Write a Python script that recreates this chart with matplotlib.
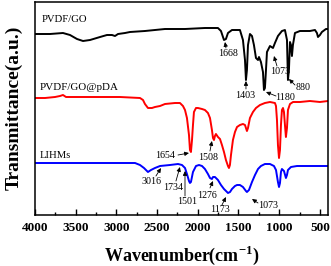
import matplotlib
matplotlib.use('Agg')
import matplotlib.pyplot as plt
from matplotlib.ticker import MultipleLocator

plt.rcParams['font.family'] = 'Liberation Serif'
plt.rcParams['mathtext.fontset'] = 'custom'
plt.rcParams['mathtext.rm'] = 'Liberation Serif:bold'
plt.rcParams['mathtext.bf'] = 'Liberation Serif:bold'

# FTIR spectra as (wavenumber, transmittance a.u.), each sample offset vertically
go_pts = [(4000, 181), (3816, 181), (3656, 182), (3570, 180), (3484, 176), (3410, 174),
          (3324, 175), (3201, 178), (3116, 180), (3054, 180), (3017, 179), (2980, 181),
          (2894, 182), (2833, 183), (2649, 184), (2403, 186), (2157, 186), (1912, 187),
          (1752, 187), (1715, 184), (1678, 175), (1654, 176), (1629, 182), (1580, 185),
          (1482, 185), (1445, 175), (1420, 155), (1408, 135), (1396, 145), (1383, 170),
          (1359, 181), (1334, 179), (1310, 170), (1285, 157), (1260, 155), (1248, 158),
          (1224, 153), (1199, 143), (1187, 125), (1175, 127), (1162, 145), (1150, 163),
          (1113, 169), (1076, 167), (1052, 172), (1015, 179), (966, 184), (929, 185),
          (904, 175), (892, 135), (880, 145), (867, 173), (855, 170), (843, 159),
          (831, 170), (806, 182), (745, 184), (622, 184), (560, 185), (536, 182),
          (523, 178), (499, 180), (475, 183), (425, 186), (400, 186)]

pda_pts = [(4000, 117), (3877, 117), (3754, 118), (3693, 119), (3656, 120), (3619, 118),
           (3447, 118), (3201, 118), (2956, 118), (2710, 117), (2673, 115), (2649, 111),
           (2612, 107), (2563, 107), (2526, 108), (2464, 109), (2403, 111), (2280, 112),
           (2219, 112), (2182, 109), (2157, 105), (2133, 97), (2108, 80), (2096, 65),
           (2084, 63), (2071, 75), (2059, 90), (2047, 103), (2022, 107), (1998, 107),
           (1948, 106), (1912, 105), (1875, 102), (1850, 97), (1826, 85), (1813, 77),
           (1801, 75), (1789, 79), (1777, 81), (1752, 78), (1727, 76), (1703, 70),
           (1678, 63), (1654, 55), (1629, 49), (1617, 47), (1605, 50), (1592, 60),
           (1568, 75), (1543, 83), (1518, 88), (1482, 90), (1445, 91), (1420, 90),
           (1396, 84), (1383, 87), (1359, 97), (1322, 103), (1285, 107), (1236, 110),
           (1175, 112), (1113, 113), (1052, 112), (1039, 109), (1027, 95), (1015, 70),
           (1002, 57), (990, 65), (978, 90), (966, 105), (953, 107), (941, 103),
           (929, 90), (917, 78), (904, 87), (892, 105), (867, 111), (830, 113),
           (745, 113), (622, 114), (499, 113), (400, 114)]

lihm_pts = [(4000, 52), (3693, 52), (3324, 52), (2956, 52), (2771, 52), (2710, 50),
            (2661, 47), (2612, 43), (2575, 45), (2526, 47), (2464, 49), (2342, 50),
            (2243, 51), (2194, 50), (2157, 47), (2133, 41), (2108, 34), (2096, 32),
            (2084, 33), (2059, 43), (2022, 49), (1985, 50), (1948, 49), (1912, 46),
            (1875, 41), (1850, 37), (1826, 36), (1813, 38), (1789, 38), (1752, 35),
            (1715, 30), (1678, 26), (1641, 23), (1629, 22), (1604, 23), (1580, 26),
            (1543, 29), (1518, 30), (1482, 30), (1445, 28), (1408, 24), (1396, 23),
            (1371, 25), (1334, 33), (1297, 40), (1260, 46), (1224, 49), (1175, 51),
            (1113, 51), (1064, 49), (1039, 45), (1015, 33), (1002, 28), (990, 32),
            (978, 43), (966, 46), (941, 44), (917, 37), (904, 40), (892, 45),
            (855, 48), (781, 49), (622, 49), (499, 49), (400, 49)]

ticks = [4000, 3500, 3000, 2500, 2000, 1500, 1000, 500]

# (label, text x, text y, arrow tail x, tail y, arrow head x, head y)
peaks = [
    ('1668', 1629, 162, 1654, 167, 1666, 173),
    ('1403', 1420, 120, 1408, 126, 1408, 134),
    ('1180', 929, 117, 1039, 119, 1162, 123),
    ('1073', 990, 143, 1027, 149, 1064, 159),
    ('880', 708, 128, 806, 130, 880, 136),
    ('1654', 2403, 60, 2243, 60, 2108, 62),
    ('1508', 1875, 58, 1850, 64, 1826, 74),
    ('3016', 2563, 33, 2514, 39, 2452, 47),
    ('1734', 2305, 28, 2268, 34, 2219, 48),
    ('1501', 2133, 13, 2157, 19, 2157, 44),
    ('1276', 1887, 20, 1850, 27, 1813, 34),
    ('1173', 1727, 5, 1703, 10, 1654, 18),
    ('1073', 1138, 10, 1260, 12, 1334, 16),
]

fig = plt.figure(figsize=(3.31, 2.66), dpi=100)
ax = fig.add_axes([35 / 331, 51 / 266, 293 / 331, 213.5 / 266])

for pts, col in [(go_pts, 'black'), (pda_pts, 'red'), (lihm_pts, 'blue')]:
    x, y = zip(*pts)
    ax.plot(x, y, color=col, lw=1.4)

ax.text(3914, 196, 'PVDF/GO', fontsize=7.7, va='center')
ax.text(3939, 127, 'PVDF/GO@pDA', fontsize=7.9, va='center')
ax.text(3939, 60, 'LIHMs', fontsize=7.7, va='center')

for lab, tx, ty, x0, y0, hx, hy in peaks:
    ax.text(tx, ty, lab, fontsize=7.2, ha='center', va='center')
    ax.annotate('', xy=(hx, hy), xytext=(x0, y0),
                arrowprops=dict(arrowstyle='-|>,head_length=0.25,head_width=0.12',
                                color='black', lw=0.6, shrinkA=0, shrinkB=0))

ax.set_xlim(4000, 400)
ax.set_ylim(0, 213.5)
ax.set_xticks(ticks)
ax.xaxis.set_minor_locator(MultipleLocator(250))
ax.set_yticks([])
ax.tick_params(axis='x', which='major', direction='in', length=4, width=1,
               labelsize=9.5, pad=5)
ax.tick_params(axis='x', which='minor', direction='in', length=2, width=1)
for lbl in ax.get_xticklabels():
    lbl.set_fontweight('bold')
for s in ax.spines.values():
    s.set_linewidth(1.1)

ax.set_xlabel(r'Wavenumber(cm$^{-1}$)', fontsize=13, fontweight='bold', labelpad=7)
ax.set_ylabel('Transmittance(a.u.)', fontsize=14, fontweight='bold', labelpad=9)

fig.savefig('out.png', dpi=100)
